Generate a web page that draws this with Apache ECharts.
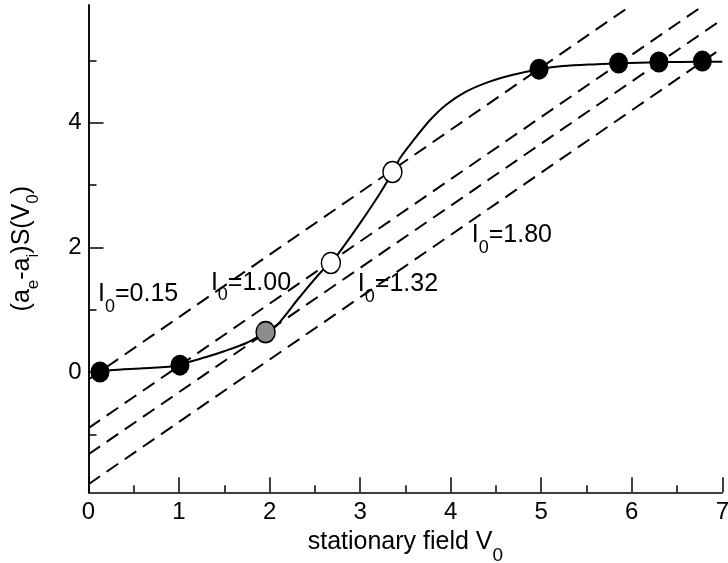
<!DOCTYPE html>
<html><head><meta charset="utf-8">
<script src="https://cdn.jsdelivr.net/npm/echarts@6/dist/echarts.min.js"></script>
<style>html,body{margin:0;padding:0;background:#fff}#c{width:728px;height:563px}</style>
</head><body><div id="c"></div>
<script>
// ---- data ----
const xRange = [0, 7];
const yRange = [-1.93, 5.89];
const yMajorTicks = [0, 2, 4];
const yMinorTicks = [-1, 1, 3, 5];

// smooth curve (a_e - a_i) S(V0)
const curvePoints = [
  [0.127, 0.0], [0.24, 0.03], [0.6, 0.06], [1.0, 0.1], [1.12, 0.165], [1.3, 0.24],
  [1.49, 0.33], [1.75, 0.47], [1.96, 0.64], [2.08, 0.75], [2.33, 1.2], [2.57, 1.61],
  [2.68, 1.75], [2.76, 1.9], [3.0, 2.39], [3.22, 2.87], [3.36, 3.21], [3.44, 3.43],
  [3.59, 3.72], [3.77, 4.04], [3.95, 4.29], [4.17, 4.5], [4.43, 4.66], [4.69, 4.77],
  [4.98, 4.86], [5.24, 4.91], [5.61, 4.94], [5.86, 4.955], [6.3, 4.97], [6.53, 4.976], [7.0, 4.98]
];
const filledPoints = [[0.127, 0.0], [1.01, 0.11], [4.976, 4.86], [5.855, 4.96], [6.30, 4.975], [6.78, 4.99]];
const grayPoints = [[1.956, 0.64]];
const openPoints = [[2.677, 1.75], [3.357, 3.21]];

// dashed lines, one per I0 value (start and end points)
const lineI015 = [[0, -0.12], [6.0, 5.89]];
const lineI100 = [[0, -0.9], [6.8, 5.89]];
const lineI132 = [[0, -1.32], [7.0, 5.66]];
const lineI180 = [[0, -1.8], [7.0, 5.2]];

// annotation texts and their anchor (top-left) positions
const annotationTexts = ['0.15', '1.00', '1.32', '1.80'];
const annotationPos = [[0.105, 1.445], [1.352, 1.629], [2.975, 1.605], [4.233, 2.392]];

const FONT = 'Liberation Sans, Arial, Helvetica, sans-serif';
const chart = echarts.init(document.getElementById('c'), null, {renderer: 'canvas'});

function dashed(data) {
  return {
    type: 'line', data: data, showSymbol: false, symbol: 'none', clip: true,
    lineStyle: {color: '#000', width: 2, type: [14, 8]}, z: 2, silent: true
  };
}
const axisCommon = {
  axisLine: {show: true, onZero: false, lineStyle: {color: '#000', width: 1.5}},
  splitLine: {show: false}
};
function subRich(mainSize, subSize, lineH) {
  return {
    m: {fontSize: mainSize, lineHeight: lineH, verticalAlign: 'top', fontFamily: FONT, color: '#000'},
    s: {fontSize: subSize, lineHeight: lineH, verticalAlign: 'bottom', fontFamily: FONT, color: '#000'}
  };
}

chart.setOption({
  animation: false,
  backgroundColor: '#fff',
  grid: {left: 88.5, right: 5.7, top: 5, bottom: 70.7, containLabel: false, outerBoundsMode: 'none'},
  xAxis: Object.assign({
    type: 'value', min: xRange[0], max: xRange[1], interval: 1,
    name: '{m|stationary field V}{s|0}', nameLocation: 'middle', nameGap: 28,
    nameTextStyle: {rich: subRich(25, 19, 36)},
    axisTick: {show: true, inside: true, length: 15, lineStyle: {color: '#000', width: 1.5}},
    minorTick: {show: true, splitNumber: 2, length: 7, lineStyle: {color: '#000', width: 1.5}},
    axisLabel: {fontSize: 24, fontFamily: FONT, color: '#000', margin: 8}
  }, axisCommon),
  yAxis: [
    Object.assign({
      type: 'value', min: yRange[0], max: yRange[1], position: 'left',
      name: '{m|(a}{s|e}{m|-a}{s|i}{m|)S(V}{s|0}{m|)}', nameLocation: 'middle', nameGap: 47,
      nameTextStyle: {rich: subRich(25, 17, 32)},
      axisTick: {show: true, inside: true, length: 15, customValues: yMajorTicks, lineStyle: {color: '#000', width: 1.5}},
      axisLabel: {fontSize: 24, fontFamily: FONT, color: '#000', margin: 7, customValues: yMajorTicks}
    }, axisCommon),
    Object.assign({
      type: 'value', min: yRange[0], max: yRange[1], position: 'left', offset: 0,
      axisTick: {show: true, inside: true, length: 8, customValues: yMinorTicks, lineStyle: {color: '#000', width: 1.5}},
      axisLabel: {show: false}
    }, axisCommon)
  ],
  series: [
    dashed(lineI015), dashed(lineI100), dashed(lineI132), dashed(lineI180),
    {
      type: 'line', data: curvePoints, smooth: 0.3, showSymbol: false, symbol: 'none',
      lineStyle: {color: '#000', width: 2}, z: 3, silent: true
    },
    {
      type: 'scatter', data: filledPoints, symbol: 'circle', symbolSize: [19, 21], z: 4,
      itemStyle: {color: '#000', opacity: 1}
    },
    {
      type: 'scatter', data: grayPoints, symbol: 'circle', symbolSize: [19, 21], z: 4,
      itemStyle: {color: '#8c8c8c', borderColor: '#000', borderWidth: 1.5, opacity: 1}
    },
    {
      type: 'scatter', data: openPoints, symbol: 'circle', symbolSize: [19, 21], z: 4,
      itemStyle: {color: '#fff', borderColor: '#000', borderWidth: 1.5, opacity: 1}
    },
    {
      type: 'scatter', symbolSize: 0, z: 5, silent: true,
      itemStyle: {opacity: 1},
      data: annotationPos.map((p, i) => ({value: p, name: annotationTexts[i]})),
      label: {
        show: true, position: [0, 0], align: 'left', verticalAlign: 'top',
        color: '#000', opacity: 1, textBorderWidth: 0,
        formatter: p => '{m|I}{s|0}{m|=' + p.name + '}',
        rich: subRich(25, 18, 34)
      }
    }
  ]
});
</script></body></html>
